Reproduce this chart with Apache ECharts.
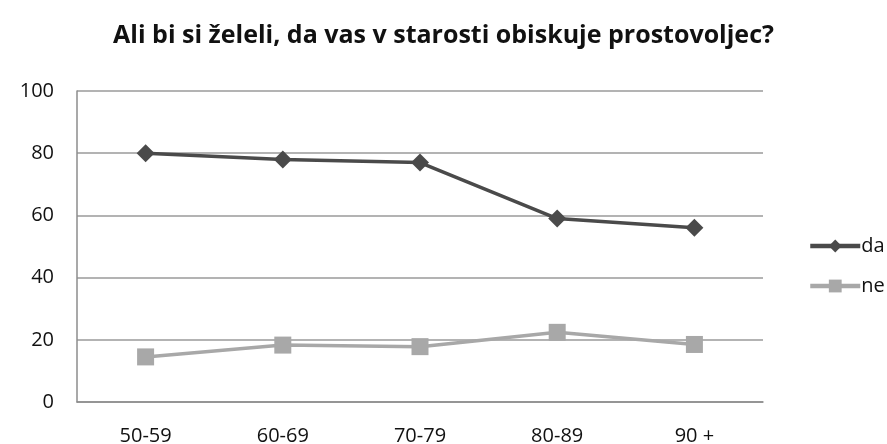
<!DOCTYPE html>
<html>
<head>
<meta charset="utf-8">
<script src="https://cdn.jsdelivr.net/npm/echarts@6/dist/echarts.min.js"></script>
<style>
  html, body { margin: 0; padding: 0; background: #fff; }
  #chart { width: 887px; height: 444px; }
</style>
</head>
<body>
<div id="chart"></div>
<script>
// podatki
const categories = ['50-59', '60-69', '70-79', '80-89', '90 +']
const daValues = [80, 78, 77, 59, 56]
const neValues = [14.5, 18.3, 17.8, 22.4, 18.5]
const yTicks = [0, 20, 40, 60, 80, 100]

const chart = echarts.init(document.getElementById('chart'))
const font = '"Open Sans", "Noto Sans", sans-serif'

chart.setOption({
  animation: false,
  title: {
    text: 'Ali bi si želeli, da vas v starosti obiskuje prostovoljec?',
    left: 'center',
    top: 18,
    textStyle: { fontFamily: font, fontSize: 25, fontWeight: 'bold', color: '#111' }
  },
  grid: { left: 77, right: 124, top: 91, bottom: 42, outerBoundsMode: 'none' },
  legend: {
    orient: 'vertical',
    left: 803,
    top: 231,
    itemGap: 20,
    itemWidth: 50,
    itemHeight: 16,
    textStyle: { fontFamily: font, fontSize: 20, color: '#111', padding: [0, 0, 0, -4] },
    data: [
      { name: 'da', lineStyle: { width: 4.5 } },
      { name: 'ne', lineStyle: { width: 4.5 } }
    ]
  },
  xAxis: {
    type: 'category',
    data: categories,
    boundaryGap: true,
    axisLine: { lineStyle: { color: '#8c8c8c', width: 1.5 } },
    axisTick: { show: false },
    axisLabel: { fontFamily: font, fontSize: 20, color: '#111', margin: 24 }
  },
  yAxis: {
    type: 'value',
    min: yTicks[0],
    max: yTicks[yTicks.length - 1],
    interval: 20,
    axisLine: { show: true, lineStyle: { color: '#8c8c8c', width: 1.5 } },
    axisTick: { show: false },
    axisLabel: { fontFamily: font, fontSize: 20, color: '#111', margin: 23 },
    splitLine: { lineStyle: { color: '#9a9a9a', width: 1.5 } }
  },
  series: [
    {
      name: 'da',
      type: 'line',
      data: daValues,
      symbol: 'diamond',
      symbolSize: 18,
      itemStyle: { color: '#4a4a4a' },
      lineStyle: { color: '#4a4a4a', width: 3.5 }
    },
    {
      name: 'ne',
      type: 'line',
      data: neValues,
      symbol: 'rect',
      symbolSize: 17,
      itemStyle: { color: '#a8a8a8' },
      lineStyle: { color: '#a8a8a8', width: 3.5 }
    }
  ]
})
</script>
</body>
</html>
